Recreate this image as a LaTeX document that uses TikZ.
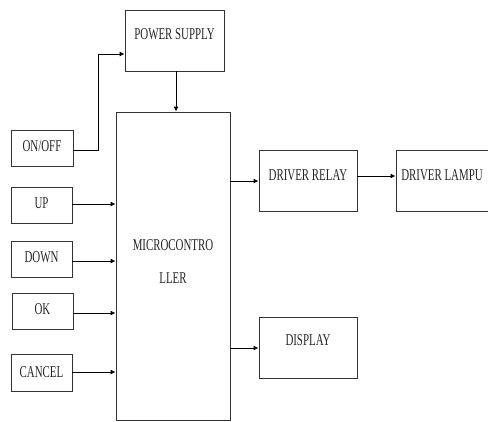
\documentclass[tikz,border=0pt]{standalone}
\usepackage{fontspec}
\newfontfamily\diagfont[FakeStretch=0.66]{Liberation Serif}
\usetikzlibrary{arrows.meta,calc}
\tikzset{
  blk/.style={draw=black!80, line width=0.9pt, inner sep=0pt, rectangle},
  lbl/.style={font=\diagfont\fontsize{16.5}{33}\selectfont, text=black!85, inner sep=0pt, align=center},
  conn/.style={line width=0.9pt, -{Latex[length=5pt,width=5pt]}},
}
\begin{document}
\begin{tikzpicture}[x=1pt,y=-1pt]
\useasboundingbox (0,0) rectangle (488,421);
\clip (0,0) rectangle (488,421);
\fill[white] (0,0) rectangle (488,421);
% boxes
\node[blk, minimum width=99, minimum height=61] (ps) at (174.5,40.5) {};
\node[lbl] (pst) at (174.5,34) {POWER SUPPLY};
\node[blk, minimum width=114, minimum height=308] (mc) at (173,266) {};
\node[lbl] (mct) at (173,261.5) {MICROCONTRO\\LLER};
\node[blk, minimum width=62, minimum height=36] (onoff) at (42,148) {};
\node[lbl] (onofft) at (42,146) {ON/OFF};
\node[blk, minimum width=61, minimum height=36] (up) at (41.5,205) {};
\node[lbl] (upt) at (41.5,203) {UP};
\node[blk, minimum width=61, minimum height=36] (down) at (41.5,259) {};
\node[lbl] (downt) at (41.5,257) {DOWN};
\node[blk, minimum width=61, minimum height=36] (ok) at (42.5,311) {};
\node[lbl] (okt) at (42.5,309) {OK};
\node[blk, minimum width=61, minimum height=37] (cancel) at (41.5,372.5) {};
\node[lbl] (cancelt) at (41.5,372) {CANCEL};
\node[blk, minimum width=98, minimum height=61] (relay) at (308,180.5) {};
\node[lbl] (relayt) at (308,175) {DRIVER RELAY};
\node[blk, minimum width=98, minimum height=61] (lampu) at (445,180.5) {};
\node[lbl] (lamput) at (442,175) {DRIVER LAMPU};
\node[blk, minimum width=98, minimum height=61] (disp) at (308,347.5) {};
\node[lbl] (dispt) at (308,340) {DISPLAY};
% connectors
\coordinate (bend1) at (98,150);
\coordinate (bend2) at (98,54);
\draw[conn] (onoff.east |- bend1) -- (bend1) -- (bend2) -- (ps.west |- bend2);
\draw[conn] (176,71) -- (mc.north -| 176,0);
\draw[conn] (up.east |- 0,204) -- (mc.west |- 0,204);
\draw[conn] (down.east |- 0,261) -- (mc.west |- 0,261);
\draw[conn] (ok.east |- 0,313) -- (mc.west |- 0,313);
\draw[conn] (cancel.east |- 0,372) -- (mc.west |- 0,372);
\draw[conn] (mc.east |- 0,181) -- (relay.west |- 0,181);
\draw[conn] (relay.east |- 0,176) -- (lampu.west |- 0,176);
\draw[conn] (mc.east |- 0,348) -- (disp.west |- 0,348);
\end{tikzpicture}
\end{document}
